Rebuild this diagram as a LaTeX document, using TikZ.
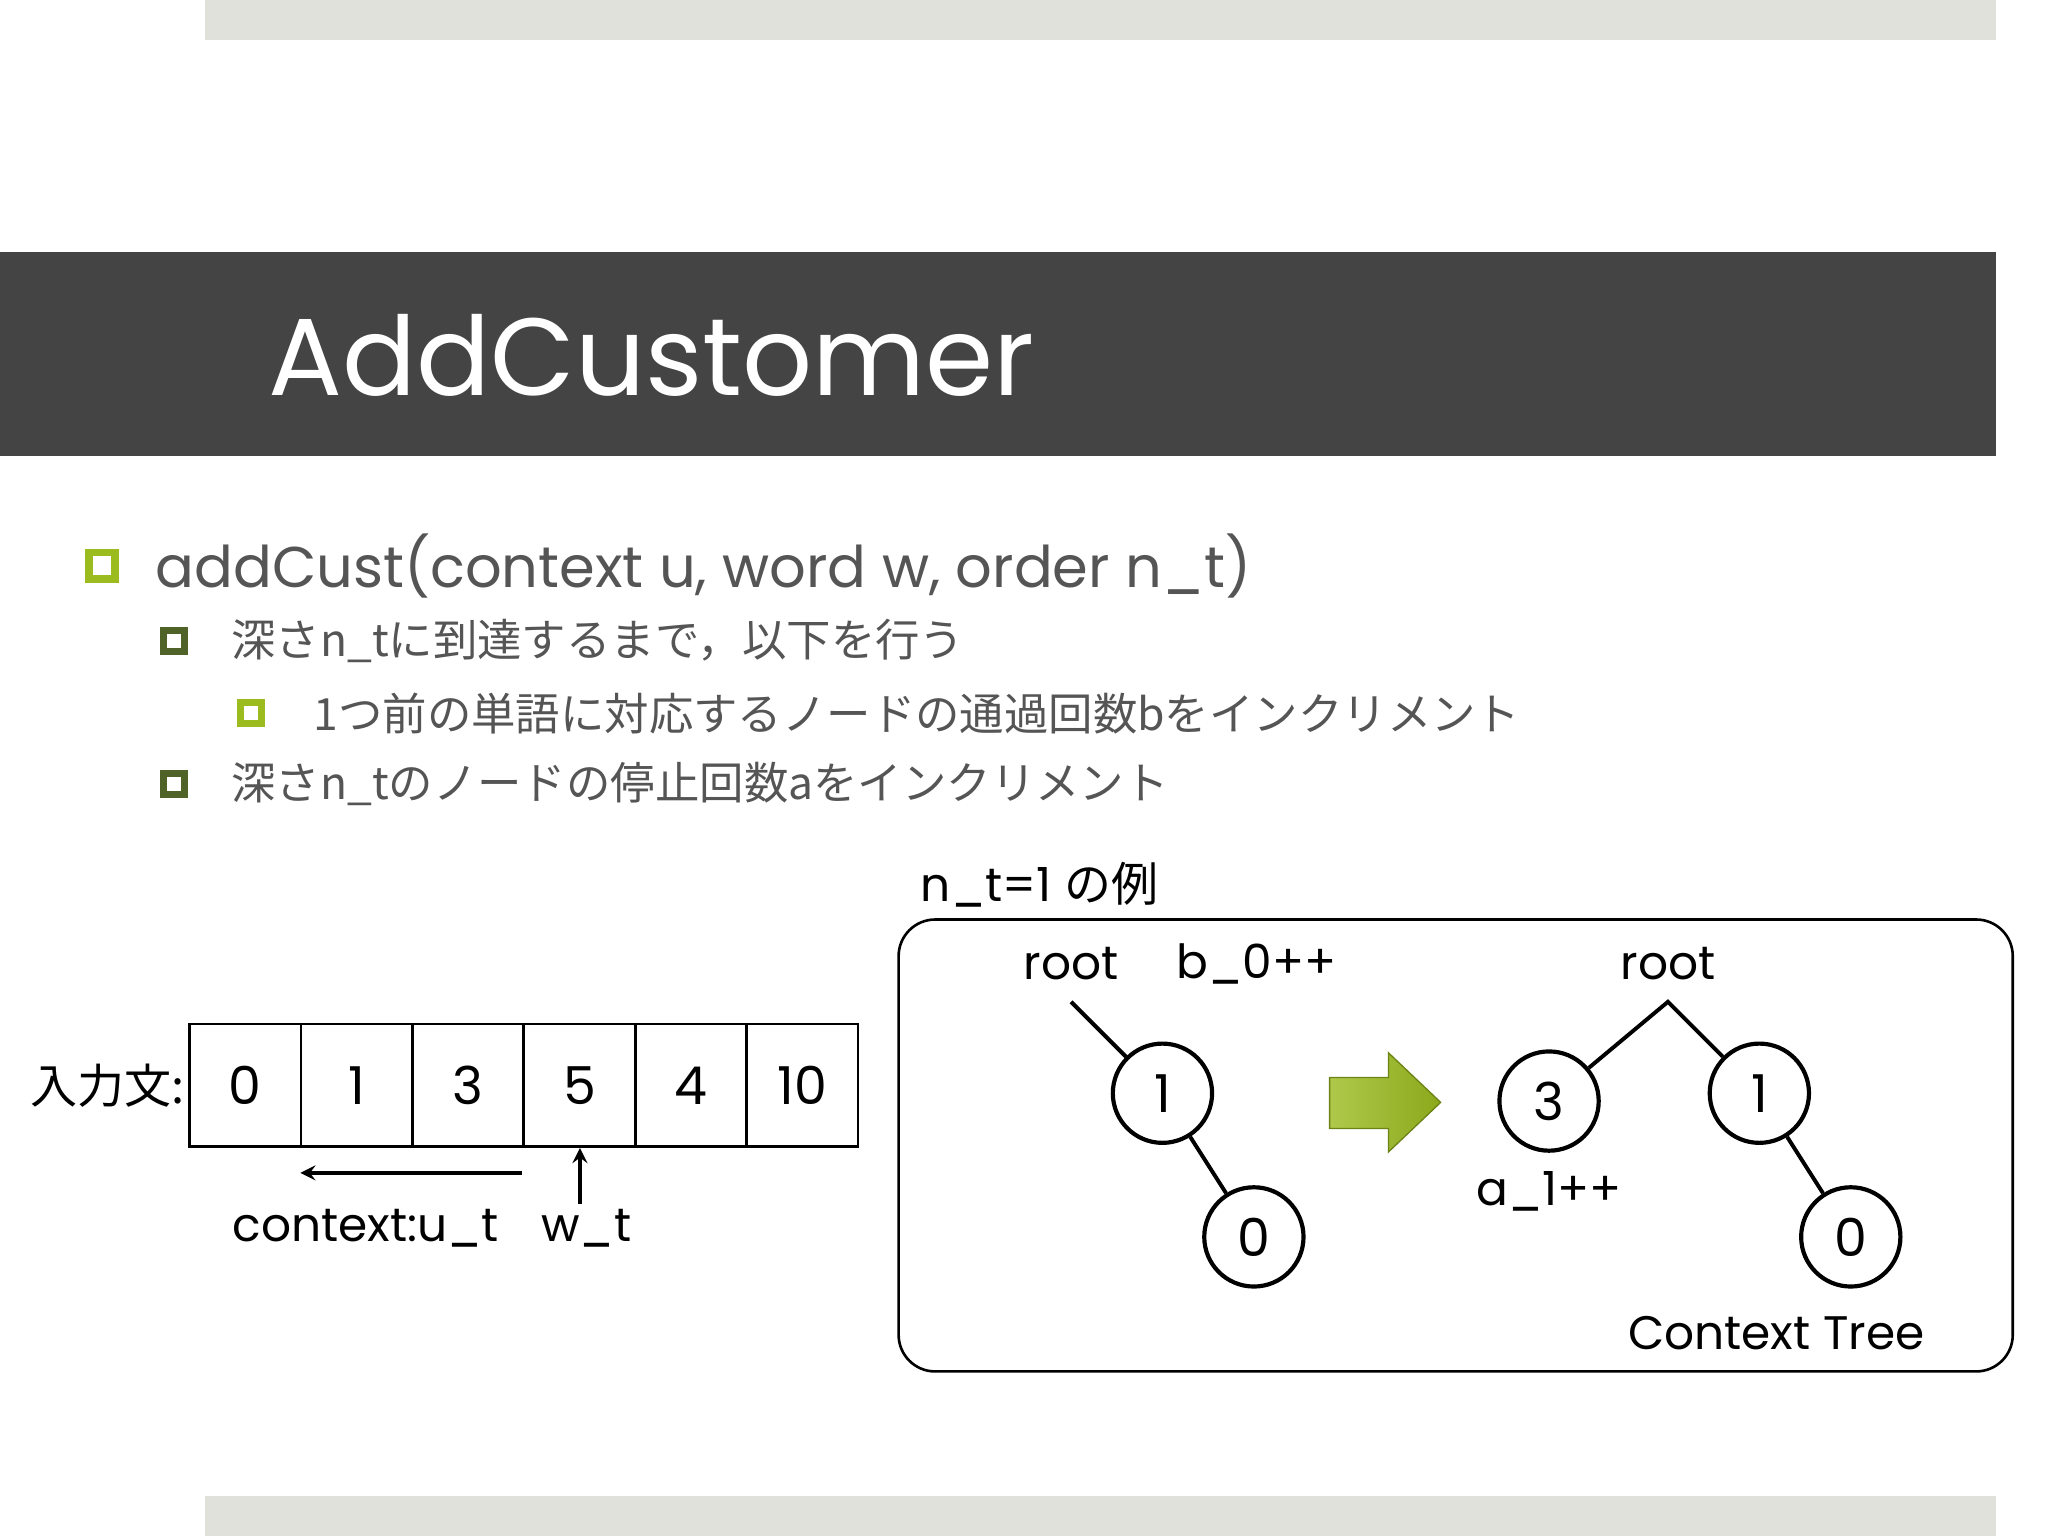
\documentclass[tikz,border=0pt]{standalone}
\usepackage{fontspec}
\setmainfont{Poppins}
\newfontfamily\jp{Noto Sans CJK JP}
\definecolor{barg}{HTML}{E1E1DB}
\definecolor{band}{HTML}{444444}
\definecolor{lgreen}{HTML}{9BBB1E}
\definecolor{dgreen}{HTML}{4F6228}
\definecolor{txt}{HTML}{555555}
\tikzset{
  bul/.style={draw=#1,fill=white,line width=3pt,minimum size=8pt,inner sep=0pt},
  cell/.style={draw,line width=1pt,minimum width=42.67pt,minimum height=47pt,inner sep=0pt,font=\fontsize{20}{24}\selectfont},
  tn/.style={circle,draw,line width=1.6pt,minimum size=38pt,inner sep=0pt,font=\fontsize{20}{24}\selectfont},
  lab/.style={font=\fontsize{18}{22}\selectfont},
  edge/.style={line width=1.5pt}
}
\begin{document}
\begin{tikzpicture}[x=0.5pt,y=-0.5pt]
\useasboundingbox (0,0) rectangle (1568,1176);
\fill[barg] (157,0) rectangle (1528,31);
\fill[barg] (157,1145) rectangle (1528,1176);
\fill[band] (0,193) rectangle (1528,349);
\node[anchor=base west,text=white,inner sep=0pt,font=\fontsize{42}{48}\selectfont] (title) at (205,303) {AddCustomer};
% bullets
\node[bul=lgreen,minimum size=10pt] (b1) at (78,433) {};
\node[anchor=west,text=txt,font=\fontsize{22}{26}\selectfont] (t1) at (112,433) {addCust(context u, word w, order n\_t)};
\node[bul=dgreen,minimum size=8pt,line width=2.6pt] (b2) at (133,491) {};
\node[anchor=west,text=txt,font=\fontsize{17}{20}\selectfont\jp] (t2) at (170,491) {深さn\_tに到達するまで，以下を行う};
\node[bul=lgreen,minimum size=8pt,line width=2.6pt] (b3) at (192,546) {};
\node[anchor=west,text=txt,font=\fontsize{17}{20}\selectfont\jp] (t3) at (233,546) {1つ前の単語に対応するノードの通過回数bをインクリメント};
\node[bul=dgreen,minimum size=8pt,line width=2.6pt] (b4) at (133,600) {};
\node[anchor=west,text=txt,font=\fontsize{17}{20}\selectfont\jp] (t4) at (170,600) {深さn\_tのノードの停止回数aをインクリメント};
% example box
\node[lab,anchor=west] (ex) at (698,677) {n\_t=1 {\jp の例}};
\draw[line width=1pt,rounded corners=14pt] (688,704) rectangle (1541,1050);
% array
\foreach \v [count=\i] in {0,1,3,5,4,10}{
  \node[cell] (c\i) at ({145+42.67*(2*\i-1)},831) {\v};
}
\node[lab,anchor=east,inner sep=1pt] (in) at (c1.west) {\jp 入力文:};
\coordinate (ca) at (400,898);
\coordinate (cb) at (230,898);
\draw[edge,-stealth] (ca) -- (cb);
\coordinate (wa) at (444,922);
\draw[edge,-stealth] (wa) -- (c4.south-|wa);
\node[lab] (ctx) at (280,940) {context:u\_t};
\node[lab] (wt) at (449,940) {w\_t};
% tree 1
\node[lab] (r1) at (820,738) {root};
\node[lab] (bb) at (962,738) {b\_0++};
\coordinate (r1e) at (820,767);
\node[tn] (n11) at (890,837) {1};
\node[tn] (n10) at (960,947) {0};
\draw[edge] (r1e) -- (n11);
\draw[edge] (n11) -- (n10);
% green arrow
\shade[left color=lgreen!80!white,right color=lgreen!90!black,draw=lgreen!70!black,line width=0.5pt]
 (1018,825) -- (1063,825) -- (1063,806) -- (1103,844) -- (1063,882) -- (1063,864) -- (1018,864) -- cycle;
% tree 2
\node[lab] (r2) at (1277,738) {root};
\coordinate (r2e) at (1277,767);
\node[tn] (n23) at (1186,843) {3};
\node[tn] (n21) at (1347,837) {1};
\node[tn] (n20) at (1417,947) {0};
\draw[edge] (n23) -- (r2e) -- (n21);
\draw[edge] (n21) -- (n20);
\node[lab] (aa) at (1186,912) {a\_1++};
\node[lab] (ct) at (1360,1021) {Context Tree};
\end{tikzpicture}
\end{document}
